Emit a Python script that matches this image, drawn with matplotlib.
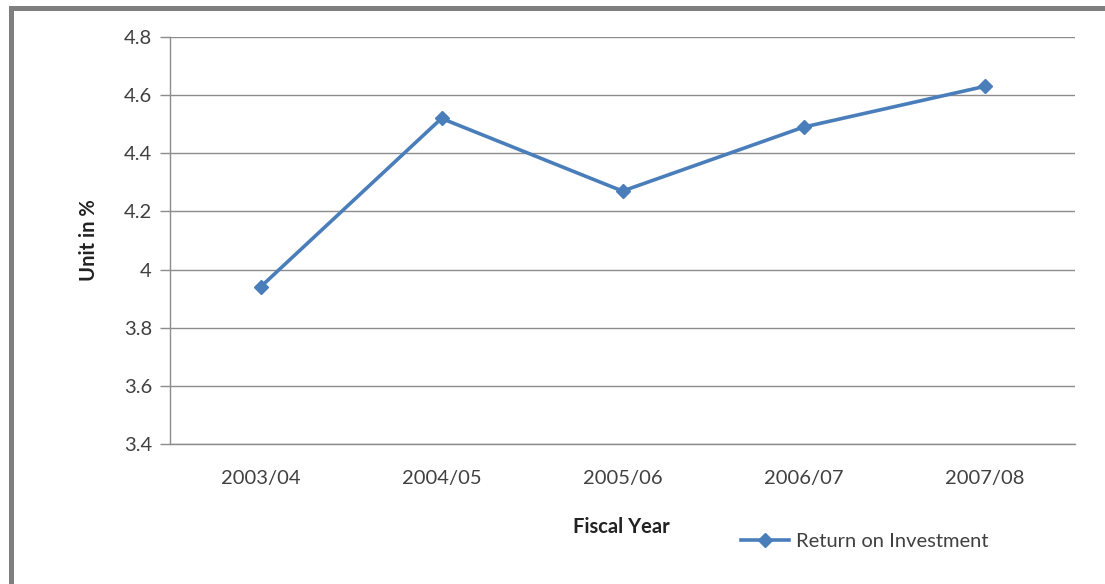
import matplotlib
matplotlib.use("Agg")
import matplotlib.pyplot as plt
from matplotlib.lines import Line2D
from matplotlib.patches import Rectangle

# Return on investment by fiscal year
fiscal_years = ["2003/04", "2004/05", "2005/06", "2006/07", "2007/08"]
roi_values = [3.94, 4.52, 4.27, 4.49, 4.63]
y_ticks = [3.4, 3.6, 3.8, 4.0, 4.2, 4.4, 4.6, 4.8]
y_tick_labels = ["3.4", "3.6", "3.8", "4", "4.2", "4.4", "4.6", "4.8"]
series_name = "Return on Investment"

plt.rcParams["font.family"] = ["Lato", "DejaVu Sans"]

W, H = 1105, 584
fig = plt.figure(figsize=(W / 100, H / 100), dpi=100)
fig.patch.set_facecolor("white")

# outer frame (left and top edges)
fig.patches.append(Rectangle((9 / W, 0), 5 / W, 1 - 6 / H, transform=fig.transFigure,
                             facecolor="#7f7f7f", edgecolor="none"))
fig.patches.append(Rectangle((9 / W, 1 - 11 / H), 1 - 9 / W, 5 / H, transform=fig.transFigure,
                             facecolor="#7f7f7f", edgecolor="none"))

ax = fig.add_axes([170 / W, 1 - 444 / H, (1075 - 170) / W, (444 - 37) / H])

blue = "#4A7EBB"
x = list(range(len(fiscal_years)))
ax.plot(x, roi_values, color=blue, linewidth=2.6, marker="D", markersize=7.5,
        markerfacecolor=blue, markeredgecolor=blue, solid_joinstyle="miter")

ax.set_xlim(-0.5, len(fiscal_years) - 0.5)
ax.set_ylim(3.4, 4.8)
ax.set_yticks(y_ticks)
ax.set_yticklabels(y_tick_labels)
ax.set_xticks(x)
ax.set_xticklabels(fiscal_years)

ax.yaxis.grid(True, color="#8c8c8c", linewidth=1.0)
ax.set_axisbelow(True)
for side in ("top", "right"):
    ax.spines[side].set_visible(False)
for side in ("left", "bottom"):
    ax.spines[side].set_color("#8c8c8c")
    ax.spines[side].set_linewidth(1.0)

ax.tick_params(axis="y", direction="out", length=7, width=1.0, color="#8c8c8c",
               labelsize=14.5, labelcolor="#404040", pad=6)
ax.tick_params(axis="x", length=0, labelsize=14.5, labelcolor="#404040", pad=19)

ax.set_ylabel("Unit in %", fontsize=14.5, fontweight="bold", color="#222222")
ax.yaxis.set_label_coords((99 - 170) / 905, 0.5)
fig.text(621 / W, 1 - 527 / H, "Fiscal Year", fontsize=14.5, fontweight="bold",
         color="#222222", ha="center", va="center")

handle = Line2D([], [], color=blue, linewidth=2.6, marker="D", markersize=7,
                markerfacecolor=blue, markeredgecolor=blue)
fig.legend([handle], [series_name], loc="center left", bbox_to_anchor=(731 / W, 1 - 541 / H),
           frameon=False, fontsize=14.5, handlelength=2.4, handletextpad=0.35,
           labelcolor="#404040", borderpad=0)

fig.savefig("out.png", dpi=100, facecolor="white")
